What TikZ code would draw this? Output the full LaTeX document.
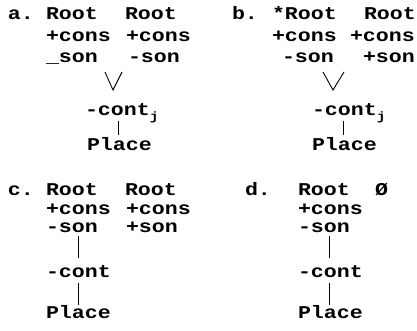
\documentclass[tikz,border=0pt]{standalone}
\usepackage{fontspec}
\setmainfont{Liberation Mono}[FakeStretch=1.2]
\begin{document}
\begin{tikzpicture}[x=1pt,y=-1pt,
  t/.style={anchor=base west,inner sep=0pt,outer sep=0pt,font=\bfseries\fontsize{18}{20}\selectfont},
  ln/.style={line width=0.9pt}]
\path[use as bounding box] (0,0) rectangle (417,331);
\newcommand{\subj}{\raisebox{-5pt}{\fontsize{12}{12}\selectfont j}}
% panel a
\node[t] (la) at (8,20) {a.};
\node[t] (ar1) at (46,20) {Root};
\node[t] (ar2) at (125,20) {Root};
\node[t] (ac1) at (46,42) {+cons};
\node[t] (ac2) at (126,42) {+cons};
\node[t] (as1) at (46,63) {\_son};
\node[t] (as2) at (128,63) {-son};
\node[t] (acont) at (85,116) {-cont\subj};
\node[t] (apl) at (87,151) {Place};
\coordinate (av1) at (105,72);
\coordinate (av2) at (122,72);
\coordinate (avx) at (113,90);
\draw[ln] (av1) -- (avx) -- (av2);
\coordinate (al1) at (118,121);
\coordinate (al2) at (118,135);
\draw[ln] (al1) -- (al2);
% panel b
\node[t] (lb) at (232,20) {b.};
\node[t] (br1) at (272,20) {*Root};
\node[t] (br2) at (364,20) {Root};
\node[t] (bc1) at (272,42) {+cons};
\node[t] (bc2) at (350,42) {+cons};
\node[t] (bs1) at (282,63) {-son};
\node[t] (bs2) at (363,63) {+son};
\node[t] (bcont) at (312,116) {-cont\subj};
\node[t] (bpl) at (312,151) {Place};
\coordinate (bv1) at (323,72);
\coordinate (bv2) at (344,72);
\coordinate (bvx) at (333,90);
\draw[ln] (bv1) -- (bvx) -- (bv2);
\coordinate (bl1) at (343,121);
\coordinate (bl2) at (343,135);
\draw[ln] (bl1) -- (bl2);
% panel c
\node[t] (lc) at (8,195) {c.};
\node[t] (cr1) at (46,195) {Root};
\node[t] (cr2) at (125,195) {Root};
\node[t] (cc1) at (46,214) {+cons};
\node[t] (cc2) at (126,214) {+cons};
\node[t] (cs1) at (46,232) {-son};
\node[t] (cs2) at (126,232) {+son};
\node[t] (ccont) at (46,277) {-cont};
\node[t] (cpl) at (46,318) {Place};
\coordinate (cl1) at (78,236);
\coordinate (cl2) at (78,258);
\coordinate (cl3) at (78,283);
\coordinate (cl4) at (78,305);
\draw[ln] (cl1) -- (cl2);
\draw[ln] (cl3) -- (cl4);
% panel d
\node[t] (ld) at (245,195) {d.};
\node[t] (dr1) at (298,195) {Root};
\node[t] (dr2) at (375,195) {Ø};
\node[t] (dc1) at (298,214) {+cons};
\node[t] (ds1) at (298,232) {-son};
\node[t] (dcont) at (298,277) {-cont};
\node[t] (dpl) at (298,318) {Place};
\coordinate (dl1) at (329,236);
\coordinate (dl2) at (329,258);
\coordinate (dl3) at (329,283);
\coordinate (dl4) at (329,305);
\draw[ln] (dl1) -- (dl2);
\draw[ln] (dl3) -- (dl4);
\end{tikzpicture}
\end{document}
